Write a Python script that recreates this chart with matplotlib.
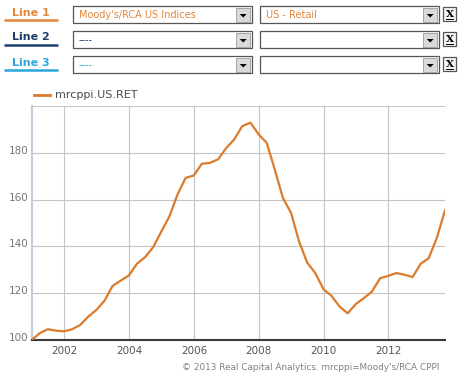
import matplotlib

matplotlib.use("Agg")
import matplotlib.pyplot as plt
import matplotlib.dates as mdates
import matplotlib.transforms as mtransforms
from matplotlib.patches import Rectangle, Polygon
import pandas as pd

# quarterly index values, Moody's/RCA CPPI US Retail (Dec 2000 = 100)
quarters = pd.date_range("2000-12-31", "2013-09-30", freq="QE")
retail = [
    100.0, 102.9, 104.6, 104.0, 103.7, 104.6, 106.4, 110.0, 112.9, 116.8,
    123.1, 125.4, 127.6, 132.6, 135.4, 139.7, 146.4, 152.8, 162.1, 169.3,
    170.3, 175.3, 175.7, 177.2, 182.0, 185.7, 191.4, 192.9, 187.9, 184.3,
    172.9, 160.7, 154.3, 142.1, 133.1, 128.6, 121.7, 118.9, 114.3, 111.4,
    115.4, 117.9, 120.7, 126.4, 127.4, 128.6, 127.9, 126.9, 132.6, 135.0,
    143.6, 155.4,
]
series_name = "mrcppi.US.RET"
y_ticks = [100, 120, 140, 160, 180]
y_grid = [100, 120, 140, 160, 180, 200]
x_years = [2002, 2004, 2006, 2008, 2010, 2012]

line_labels = ["Line 1", "Line 2", "Line 3"]
line_colors = ["#E3873C", "#1E3F6C", "#2BA7DB"]
source_texts = ["Moody's/RCA US Indices", "----", "----"]
market_texts = ["US - Retail", "", ""]
footer = "\u00a9 2013 Real Capital Analytics. mrcppi=Moody's/RCA CPPI"

W, H = 460, 379
fig = plt.figure(figsize=(W / 100, H / 100), dpi=100)

# --- selector rows drawn in pixel coordinates ---
ui = fig.add_axes([0, 0, 1, 1])
ui.set_xlim(0, W)
ui.set_ylim(H, 0)
ui.axis("off")


def dropdown(x0, x1, y0, y1, text, color):
    ui.add_patch(Rectangle((x0, y0), x1 - x0, y1 - y0, facecolor="white",
                           edgecolor="#555555", lw=0.9))
    ui.add_patch(Rectangle((x1 - 16, y0 + 1.5), 14.5, y1 - y0 - 3,
                           facecolor="#DADADA", edgecolor="#9A9A9A", lw=0.6))
    cx, cy = x1 - 8.8, (y0 + y1) / 2 + 1
    ui.add_patch(Polygon([(cx - 3.5, cy - 1.5), (cx + 3.5, cy - 1.5), (cx, cy + 2)],
                         closed=True, facecolor="black", edgecolor="none"))
    if text:
        ui.text(x0 + 6, (y0 + y1) / 2 + 0.5, text, color=color, fontsize=7,
                va="center", ha="left")


row_tops = [6, 31, 56]
for label, color, src, mkt, top in zip(line_labels, line_colors, source_texts, market_texts, row_tops):
    bot = top + 17
    ui.text(31, top + 6.5, label, color=color, fontsize=8, fontweight="bold",
            ha="center", va="center")
    ui.plot([4, 58], [top + 14, top + 14], color=color, lw=1.8, solid_capstyle="butt")
    dropdown(73, 252, top, bot, src, color)
    dropdown(260, 439, top, bot, mkt, color)
    ui.add_patch(Rectangle((443, top + 1), 13, 14, facecolor="#F4F4F4",
                           edgecolor="#555555", lw=0.9))
    ui.text(449.5, top + 8.5, "X", fontsize=7.5, fontweight="bold", family="DejaVu Serif",
            ha="center", va="center", color="black")
    ui.plot([446, 453], [top + 13, top + 13], color="black", lw=0.7)

# legend
ui.plot([34, 50], [95, 95], color="#DB7B2C", lw=2)
ui.text(55, 95, series_name, fontsize=8, color="#4A4A4A", va="center", ha="left")

# footer
ui.text(439, 368, footer, fontsize=6.4, color="#808080", ha="right", va="center")

# --- chart ---
left, right, top, bottom = 31.7, 445, 106, 340
ax = fig.add_axes([left / W, (H - bottom) / H, (right - left) / W, (bottom - top) / H])
ax.plot(quarters, retail, color="#DB7B2C", lw=1.6, solid_joinstyle="round", zorder=3)
ax.set_xlim(quarters[0], quarters[-1])
ax.set_ylim(100, 200)

for v in y_grid:
    ax.axhline(v, color="#C4C4C4", lw=0.8, zorder=1)
for yr in x_years:
    ax.axvline(pd.Timestamp(f"{yr}-01-01"), color="#C4C4C4", lw=0.8, zorder=1)

ax.set_xticks([pd.Timestamp(f"{yr}-01-01") for yr in x_years])
ax.xaxis.set_major_formatter(mdates.DateFormatter("%Y"))
ax.set_yticks(y_ticks)
ax.set_yticklabels([str(v) for v in y_ticks])
ax.tick_params(axis="x", length=0, pad=4, labelsize=7.5, labelcolor="#555555")
ax.tick_params(axis="y", length=0, pad=2, labelsize=7.5, labelcolor="#777777")
shift = mtransforms.ScaledTranslation(0, 3 / 100, fig.dpi_scale_trans)
for lbl in ax.get_yticklabels():
    lbl.set_transform(lbl.get_transform() + shift)

for side in ["top", "right"]:
    ax.spines[side].set_visible(False)
ax.spines["left"].set_color("#C3CEDB")
ax.spines["left"].set_linewidth(1.6)
ax.spines["bottom"].set_color("#3A3A3A")
ax.spines["bottom"].set_linewidth(1.5)
ax.set_facecolor("none")

fig.savefig("out.png", dpi=100)
